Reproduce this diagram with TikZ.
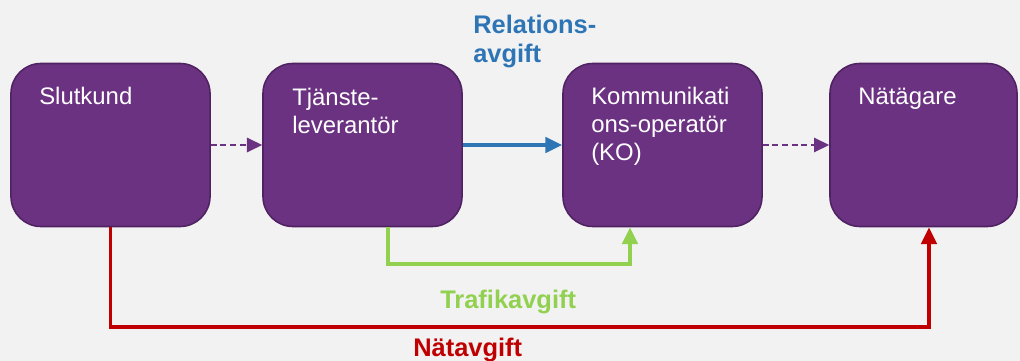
\documentclass[tikz,border=0pt]{standalone}
\usepackage{fontspec}
\setmainfont{Liberation Sans}
\usetikzlibrary{arrows.meta,calc}
\definecolor{boxpurple}{HTML}{6C3282}
\definecolor{boxedge}{HTML}{4F2262}
\definecolor{relblue}{HTML}{2E75B6}
\definecolor{trafgreen}{HTML}{92D050}
\definecolor{natred}{HTML}{C00000}
\definecolor{bggray}{HTML}{F2F2F2}
\begin{document}
\begin{tikzpicture}[x=0.025cm,y=-0.025cm,
    party/.style={draw=boxedge,line width=1.1pt,fill=boxpurple,rounded corners=0.75cm,minimum height=4.075cm,inner sep=0pt},
    boxtext/.style={anchor=base west,inner sep=0pt,text=white,align=left,font=\fontsize{17}{19.9}\selectfont},
    feetext/.style={anchor=base west,inner sep=0pt,align=left,font=\fontsize{18.1}{21.3}\selectfont\bfseries},
    flow/.style={dash pattern=on 0.15cm off 0.09cm,line width=1.1pt,draw=boxpurple,-{Triangle[length=0.38cm,width=0.36cm]}},
    fee/.style={line width=2.8pt,-{Triangle[length=0.42cm,width=0.38cm]}}]
  \fill[bggray] (0,0) rectangle (1020,361);
  \useasboundingbox (0,0) rectangle (1020,361);
  % parties
  \node[party,minimum width=4.975cm] (slutkund) at (110.5,145) {};
  \node[party,minimum width=4.975cm] (tjanste) at (362.5,145) {};
  \node[party,minimum width=4.975cm] (ko) at (662.5,145) {};
  \node[party,minimum width=4.675cm] (natagare) at (923.5,145) {};
  % texts (base = last line)
  \node[boxtext] (slutkundT) at (39,105) {Slutkund};
  \node[boxtext] (tjansteT) at (292,133) {Tjänste-\\leverantör};
  \node[boxtext] (koT) at (591,160) {Kommunikati\\ons-operatör\\(KO)};
  \node[boxtext] (natagareT) at (858,105) {Nätägare};
  % flows
  \draw[flow] (slutkund.east) -- (tjanste.west);
  \draw[flow] (ko.east) -- (natagare.west);
  \draw[fee,relblue] (tjanste.east) -- (ko.west);
  \draw[fee,trafgreen] ($(tjanste.south)+(25.5,0)$) -- ++(0,36.5) -| ($(ko.south)+(-32.5,0)$);
  \draw[fee,natred] (slutkund.south) -- ++(0,99.5) -| ($(natagare.south)+(5.5,0)$);
  % fees
  \node[feetext,text=relblue] (relfee) at (473,63) {Relations-\\avgift};
  \node[feetext,text=trafgreen] (trafee) at (440,308) {Trafikavgift};
  \node[feetext,text=natred] (natfee) at (413,356) {Nätavgift};
\end{tikzpicture}
\end{document}
